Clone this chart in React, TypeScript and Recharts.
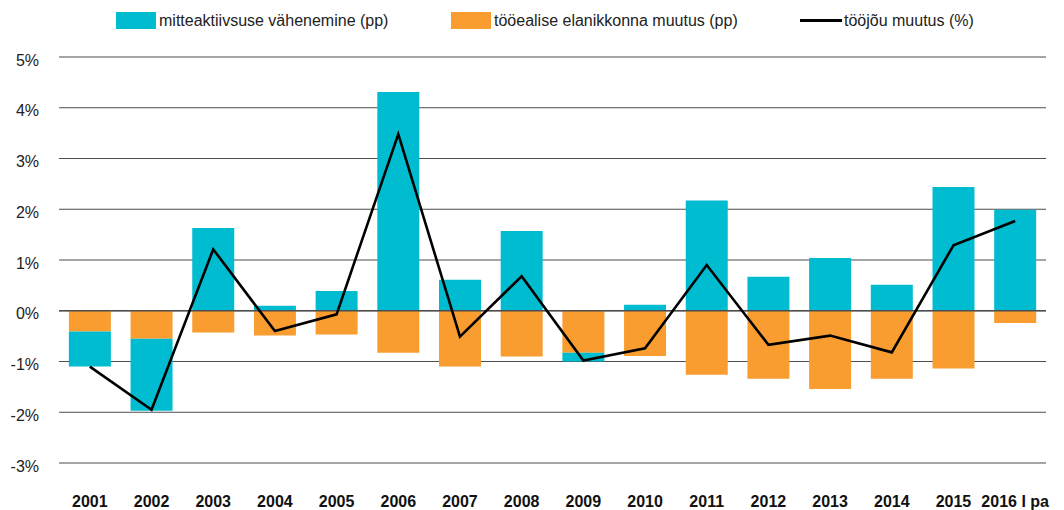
import {
  Bar,
  CartesianGrid,
  ComposedChart,
  Legend,
  Line,
  ReferenceLine,
  XAxis,
  YAxis,
} from "recharts";

const years = [
  "2001", "2002", "2003", "2004", "2005", "2006", "2007", "2008",
  "2009", "2010", "2011", "2012", "2013", "2014", "2015", "2016 I pa",
];
// mitteaktiivsuse vähenemine (pp)
const inactivityDrop = [
  -0.69, -1.42, 1.63, 0.1, 0.39, 4.31, 0.61, 1.57,
  -0.17, 0.12, 2.17, 0.67, 1.04, 0.51, 2.44, 1.99,
];
// tööealise elanikkonna muutus (pp)
const populationChange = [
  -0.41, -0.55, -0.43, -0.49, -0.47, -0.83, -1.1, -0.9,
  -0.83, -0.89, -1.26, -1.34, -1.54, -1.34, -1.14, -0.24,
];
// tööjõu muutus (%)
const labourChange = [
  -1.1, -1.95, 1.21, -0.4, -0.07, 3.48, -0.51, 0.68,
  -0.98, -0.74, 0.9, -0.67, -0.49, -0.82, 1.29, 1.77,
];
const yTicks = [-3, -2, -1, 0, 1, 2, 3, 4, 5];

const CYAN = "#00BCD0";
const ORANGE = "#F99D31";
const FONT = "'Liberation Sans', Arial, Helvetica, sans-serif";

const data = years.map((year, i) => ({
  year,
  inactivity: inactivityDrop[i],
  population: populationChange[i],
  labour: labourChange[i],
}));

const labelStyle = {
  position: "absolute" as const,
  top: 11,
  fontSize: 16,
  lineHeight: "19px",
  color: "#222",
  whiteSpace: "nowrap" as const,
};

function ChartLegend() {
  return (
    <div style={{ position: "relative", width: 1064, height: 57, fontFamily: FONT }}>
      <span style={{ position: "absolute", left: 116, top: 12, width: 40, height: 17, background: CYAN }} />
      <span style={{ ...labelStyle, left: 159 }}>mitteaktiivsuse vähenemine (pp)</span>
      <span style={{ position: "absolute", left: 451, top: 12, width: 40, height: 17, background: ORANGE }} />
      <span style={{ ...labelStyle, left: 494 }}>tööealise elanikkonna muutus (pp)</span>
      <span style={{ position: "absolute", left: 800, top: 19, width: 42, height: 3, background: "#000" }} />
      <span style={{ ...labelStyle, left: 844 }}>tööjõu muutus (%)</span>
    </div>
  );
}

export default function App() {
  return (
    <div style={{ position: "absolute", left: 0, top: 0, width: 1064, height: 510, background: "#fff" }}>
      <ComposedChart
        width={1064}
        height={510}
        data={data}
        stackOffset="sign"
        barCategoryGap="16%"
        margin={{ top: 0, right: 18, bottom: 0, left: 0 }}
      >
        <Legend
          verticalAlign="top"
          content={() => <ChartLegend />}
          wrapperStyle={{ top: 0, left: 0, width: 1064, height: 57 }}
        />
        <CartesianGrid vertical={false} stroke="#4d4d4d" strokeWidth={1.2} />
        <XAxis
          dataKey="year"
          axisLine={false}
          tickLine={false}
          tickSize={0}
          tickMargin={33}
          height={47}
          interval={0}
          tick={{ fill: "#111", fontSize: 16, fontWeight: 700, fontFamily: FONT }}
        />
        <YAxis
          domain={[-3, 5]}
          ticks={yTicks}
          width={59}
          axisLine={false}
          tickLine={false}
          tickSize={0}
          tickMargin={20}
          tickFormatter={(v: number) => `${v}%`}
          tick={{ fill: "#222", fontSize: 16, fontFamily: FONT, dy: 3 }}
        />
        <Bar
          dataKey="population"
          name="tööealise elanikkonna muutus (pp)"
          stackId="a"
          fill={ORANGE}
          isAnimationActive={false}
        />
        <Bar
          dataKey="inactivity"
          name="mitteaktiivsuse vähenemine (pp)"
          stackId="a"
          fill={CYAN}
          isAnimationActive={false}
        />
        <ReferenceLine y={0} stroke="#4d4d4d" strokeWidth={1.5} />
        <Line
          type="linear"
          dataKey="labour"
          name="tööjõu muutus (%)"
          stroke="#000"
          strokeWidth={2.6}
          dot={false}
          isAnimationActive={false}
        />
      </ComposedChart>
    </div>
  );
}
